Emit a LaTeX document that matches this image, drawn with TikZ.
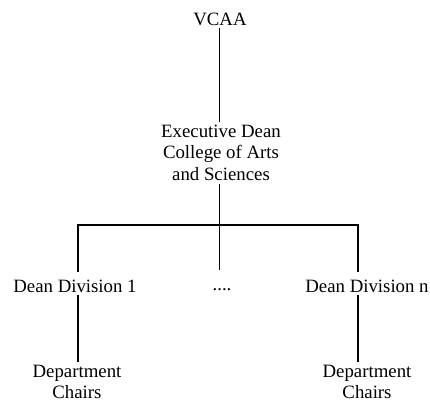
\documentclass[tikz,border=0pt]{standalone}
\usepackage{fontspec}
\setmainfont{Liberation Serif}
\begin{document}
\begin{tikzpicture}[x=1pt,y=-1pt,
  lbl/.style={inner sep=0pt, outer sep=3pt, font=\fontsize{18.8}{21.5}\selectfont},
  one/.style={lbl, anchor=base, text height=17pt},
  chairs/.style={lbl, outer sep=0pt, anchor=north, align=center},
  thinline/.style={line width=1pt},
  thickline/.style={line width=2.2pt}]
\useasboundingbox (0,0) rectangle (430,402);
\node[lbl, anchor=base] (vcaa) at (220,25) {VCAA};
\node[lbl, anchor=north, align=center] (exec) at (221,122) {Executive Dean\\College of Arts\\and Sciences};
\node[one] (dots) at (222,290) {....};
\node[one] (div1) at (75,292) {Dean Division 1};
\node[one] (divn) at (367,292) {Dean Division n};
\node[chairs] (ch1) at (77,365) {Department\\Chairs};
\node[chairs] (chn) at (367,365) {Department\\Chairs};
\coordinate (bar) at (219,225);
\coordinate (L) at (78,225);
\coordinate (R) at (358,225);
\draw[thinline] (vcaa.south -| bar) -- (exec.north -| bar);
\draw[thinline] (exec.south -| bar) -- (dots.north -| bar);
\draw[thickline] (div1.north -| L) -- (L) -- (R) -- (divn.north -| R);
\draw[thickline, shorten >=3pt] (div1.south -| L) -- (ch1.north -| L);
\draw[thickline, shorten >=3pt] (divn.south -| R) -- (chn.north -| R);
\end{tikzpicture}
\end{document}
